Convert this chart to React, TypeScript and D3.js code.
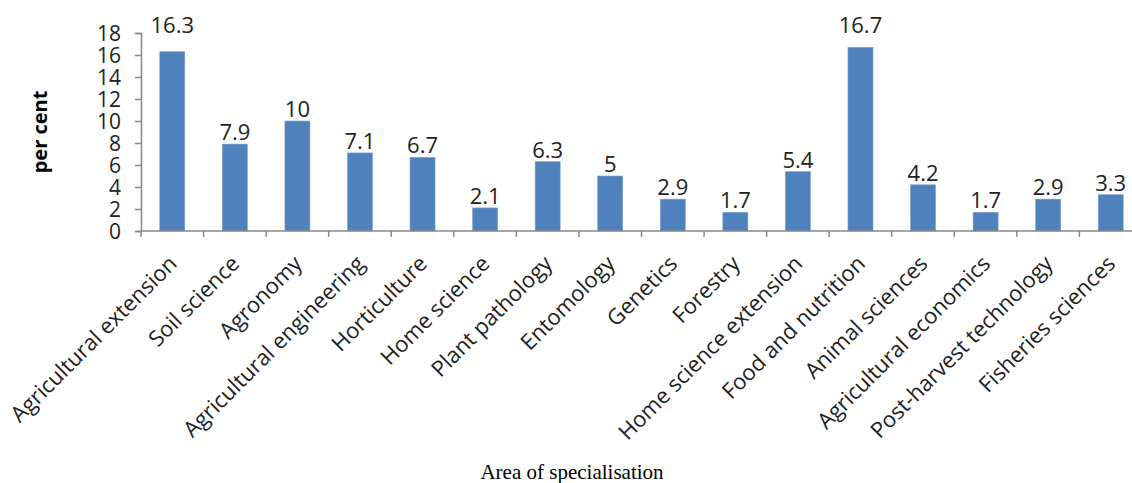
import { useEffect, useRef } from 'react'
import * as d3 from 'd3'

const categories = [
  'Agricultural extension',
  'Soil science',
  'Agronomy',
  'Agricultural engineering',
  'Horticulture',
  'Home science',
  'Plant pathology',
  'Entomology',
  'Genetics',
  'Forestry',
  'Home science extension',
  'Food and nutrition',
  'Animal sciences',
  'Agricultural economics',
  'Post-harvest technology',
  'Fisheries sciences',
]
const values = [16.3, 7.9, 10, 7.1, 6.7, 2.1, 6.3, 5, 2.9, 1.7, 5.4, 16.7, 4.2, 1.7, 2.9, 3.3]
const yTicks = [0, 2, 4, 6, 8, 10, 12, 14, 16, 18]

const font = '"Open Sans", Lato, sans-serif'

function BarChart() {
  const svgRef = useRef<SVGSVGElement>(null)

  useEffect(() => {
    if (!svgRef.current) return
    const width = 1132
    const height = 483
    const margin = { top: 33, right: -10, bottom: 252, left: 141 }

    const svg = d3.select(svgRef.current)
    svg.attr('width', width).attr('height', height)
    svg.selectAll('*').remove()

    const x = d3.scaleBand()
      .domain(categories)
      .range([margin.left, width - margin.right])
      .paddingInner(0.6)
      .paddingOuter(0.3)
    const y = d3.scaleLinear()
      .domain([0, 18])
      .range([height - margin.bottom, margin.top])

    const step = x.step()
    const x0 = margin.left
    const x1 = width - margin.right

    // y axis
    const yAxis = svg.append('g')
      .attr('transform', `translate(${x0},0)`)
      .call(d3.axisLeft(y).tickValues(yTicks).tickSize(6).tickPadding(14))
    yAxis.select('.domain').attr('stroke', '#898989').attr('stroke-width', 1.5)
    yAxis.selectAll('line').attr('stroke', '#898989').attr('stroke-width', 1.5)
    yAxis.selectAll('text')
      .attr('font-family', font)
      .attr('font-size', '21px')
      .attr('dy', '0.36em')
      .attr('fill', '#222')

    // bars
    svg.selectAll('.bar')
      .data(values)
      .enter()
      .append('rect')
      .attr('class', 'bar')
      .attr('x', (_, i) => x(categories[i]) || 0)
      .attr('y', d => y(d))
      .attr('width', x.bandwidth())
      .attr('height', d => y(0) - y(d))
      .attr('fill', '#4F81BD')
      .attr('stroke', '#7FA3CF')
      .attr('stroke-width', 0.6)

    // x axis line and ticks between categories
    svg.append('line')
      .attr('x1', x0).attr('x2', x1)
      .attr('y1', y(0)).attr('y2', y(0))
      .attr('stroke', '#898989').attr('stroke-width', 1.5)
    svg.selectAll('.xtick')
      .data(d3.range(categories.length + 1))
      .enter()
      .append('line')
      .attr('class', 'xtick')
      .attr('x1', i => x0 + i * step)
      .attr('x2', i => x0 + i * step)
      .attr('y1', y(0))
      .attr('y2', y(0) + 6)
      .attr('stroke', '#898989').attr('stroke-width', 1.5)

    // value labels; tall bars get their label lifted to the top of the axis
    svg.selectAll('.val')
      .data(values)
      .enter()
      .append('text')
      .attr('class', 'val')
      .attr('x', (_, i) => (x(categories[i]) || 0) + x.bandwidth() / 2)
      .attr('y', d => (d > 16 ? y(18) : y(d) - 4))
      .attr('text-anchor', 'middle')
      .attr('font-family', font)
      .attr('font-size', '22px')
      .attr('fill', '#222')
      .text(d => String(d))

    // category labels
    svg.selectAll('.cat')
      .data(categories)
      .enter()
      .append('text')
      .attr('class', 'cat')
      .attr('transform', d => `translate(${(x(d) || 0) + x.bandwidth() / 2 + 6},${y(0) + 34}) rotate(-45)`)
      .attr('text-anchor', 'end')
      .attr('font-family', font)
      .attr('font-size', '22px')
      .attr('fill', '#222')
      .text(d => d)

    // y title
    svg.append('text')
      .attr('transform', `translate(47,${(y(0) + y(18)) / 2}) rotate(-90)`)
      .attr('text-anchor', 'middle')
      .attr('font-family', font)
      .attr('font-weight', 'bold')
      .attr('font-size', '20px')
      .attr('fill', '#000')
      .text('per cent')

    // x title
    svg.append('text')
      .attr('x', 572)
      .attr('y', 479)
      .attr('text-anchor', 'middle')
      .attr('font-family', '"Liberation Serif", "Times New Roman", serif')
      .attr('font-size', '21px')
      .attr('fill', '#000')
      .text('Area of specialisation')
  }, [])

  return <svg ref={svgRef} style={{ position: 'absolute', left: 0, top: 0, overflow: 'hidden' }} />
}

export default function App() {
  return <BarChart />
}
